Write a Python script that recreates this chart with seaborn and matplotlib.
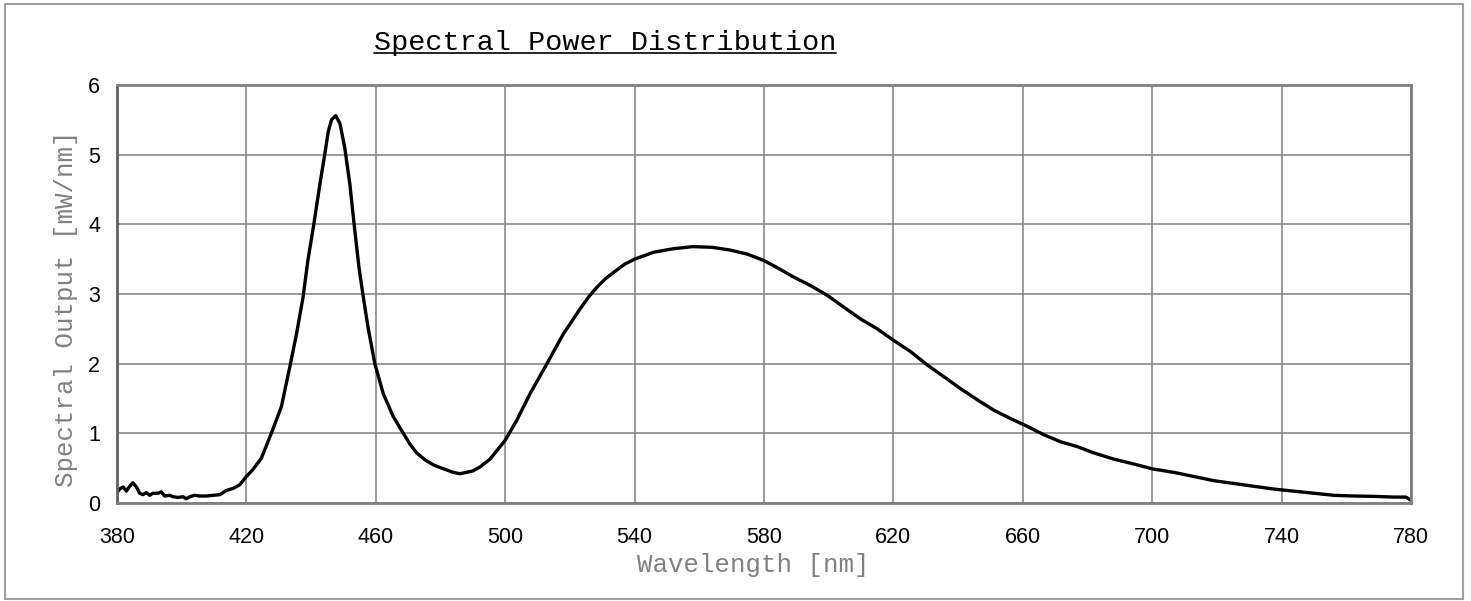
import matplotlib
matplotlib.use("Agg")
import matplotlib.pyplot as plt
import seaborn as sns
import pandas as pd
from matplotlib.patches import Rectangle
from matplotlib.lines import Line2D

# ---- data ----
wavelength = [380, 380.8, 381.9, 382.9, 383.9, 384.9, 386, 387, 388, 389.1, 390.1, 391.1,
              392.7, 393.7, 394.7, 396.3, 397.3, 398.9, 400.4, 401.4, 402.5, 404, 405.6,
              407.6, 409.7, 411.8, 413.8, 415.9, 417.9, 420, 422, 424.6, 427.7, 430.8,
              433.4, 435.5, 437.5, 439, 440.8, 442.7, 444.2, 445.3, 446.3, 447.6, 448.9,
              450.4, 452, 453.3, 454.8, 456, 457.6, 459.7, 462.3, 465.4, 468.5, 470.5,
              472.6, 475.2, 477.7, 479.8, 483.9, 486, 490, 492.3, 495.3, 500, 503.6, 507.7,
              512.9, 518, 523.2, 526, 528.4, 531, 533.5, 537, 540, 545.9, 552, 558, 564,
              569.6, 575, 580, 584, 589.3, 594.4,
              599.6, 604.7, 609.9, 615, 620.2, 625.4, 630.5, 635.7, 640.8, 646, 651.1,
              656.3, 661.4, 666.5, 671.6, 676.8, 681.9, 688.1, 694.3, 700, 706.7, 712.9,
              719.1, 725.3, 731.4, 737.6, 743.8, 750, 756.2, 762.5, 768.6, 774.8, 778.4, 780]
output = [0.15, 0.20, 0.23, 0.17, 0.24, 0.29, 0.23, 0.14, 0.12, 0.15, 0.11, 0.14,
          0.14, 0.16, 0.10, 0.11, 0.09, 0.08, 0.09, 0.06, 0.09, 0.11, 0.10,
          0.10, 0.11, 0.12, 0.18, 0.21, 0.26, 0.38, 0.48, 0.64, 1.00, 1.38,
          1.95, 2.43, 2.95, 3.48, 3.99, 4.57, 5.00, 5.33, 5.50, 5.56, 5.45,
          5.10, 4.57, 4.00, 3.38, 3.00, 2.52, 2.00, 1.57, 1.24, 1.00, 0.85,
          0.72, 0.62, 0.55, 0.51, 0.44, 0.42, 0.46, 0.52, 0.63, 0.90, 1.19, 1.57,
          2.00, 2.43, 2.79, 2.97, 3.10, 3.22, 3.31, 3.43, 3.50, 3.60, 3.65, 3.68, 3.67,
          3.63, 3.57, 3.48, 3.38, 3.24, 3.12,
          2.98, 2.81, 2.64, 2.50, 2.33, 2.17, 1.98, 1.81, 1.64, 1.48, 1.33,
          1.21, 1.10, 0.98, 0.88, 0.81, 0.72, 0.63, 0.56, 0.49, 0.44, 0.38,
          0.32, 0.28, 0.24, 0.20, 0.17, 0.14, 0.11, 0.10, 0.095, 0.085, 0.085, 0.04]
x_ticks = [380, 420, 460, 500, 540, 580, 620, 660, 700, 740, 780]
y_ticks = [0, 1, 2, 3, 4, 5, 6]
title = "Spectral Power Distribution"
x_label = "Wavelength [nm]"
y_label = "Spectral Output [mW/nm]"

df = pd.DataFrame({"wavelength": wavelength, "output": output})

sns.set_style("white")
plt.rcParams["font.family"] = ["Liberation Sans", "DejaVu Sans"]

fig = plt.figure(figsize=(14.71, 6.01), dpi=100)
ax = fig.add_axes([117 / 1471, 1 - 503 / 601, (1411 - 117) / 1471, (503 - 85) / 601])

sns.lineplot(data=df, x="wavelength", y="output", ax=ax, color="black", linewidth=2.4)

ax.set_xlim(380, 780)
ax.set_ylim(0, 6)
ax.set_xticks(x_ticks)
ax.set_yticks(y_ticks)
ax.grid(True, color="#808080", linewidth=1.1)
ax.set_axisbelow(True)
for s in ax.spines.values():
    s.set_visible(True)
    s.set_color("#808080")
    s.set_linewidth(2.0)
ax.spines["left"].set_color("#606060")
ax.tick_params(axis="both", direction="out", length=6, width=1.1, color="#808080",
               labelsize=15.5, labelcolor="black")
ax.tick_params(axis="x", pad=11)
ax.tick_params(axis="y", pad=6)

mono = ["Liberation Mono", "DejaVu Sans Mono"]
ax.set_xlabel(x_label, family=mono, fontsize=18.5, color="#808080")
ax.set_ylabel(y_label, family=mono, fontsize=18.5, color="#808080")
ax.xaxis.set_label_coords((753 - 117) / 1294, (503 - 553) / 418)
ax.yaxis.set_label_coords((78 - 117) / 1294, (503 - 309) / 418)

t = fig.text(605 / 1471, 1 - 43 / 601, title, family=mono, fontsize=20.5,
             color="black", ha="center", va="center")
fig.canvas.draw()
bb = t.get_window_extent(renderer=fig.canvas.get_renderer())
fb = fig.transFigure.inverted()
(x0, y0), (x1, y1) = fb.transform([(bb.x0, bb.y0), (bb.x1, bb.y0)])
fig.add_artist(Line2D([x0, x1], [1 - 53 / 601, 1 - 53 / 601], transform=fig.transFigure,
                      color="black", linewidth=1.2))

fig.add_artist(Rectangle((5 / 1471, 2 / 601), 1458 / 1471, 595 / 601, transform=fig.transFigure,
                         fill=False, edgecolor="#a0a0a0", linewidth=1.5))

fig.savefig("out.png", dpi=100)
